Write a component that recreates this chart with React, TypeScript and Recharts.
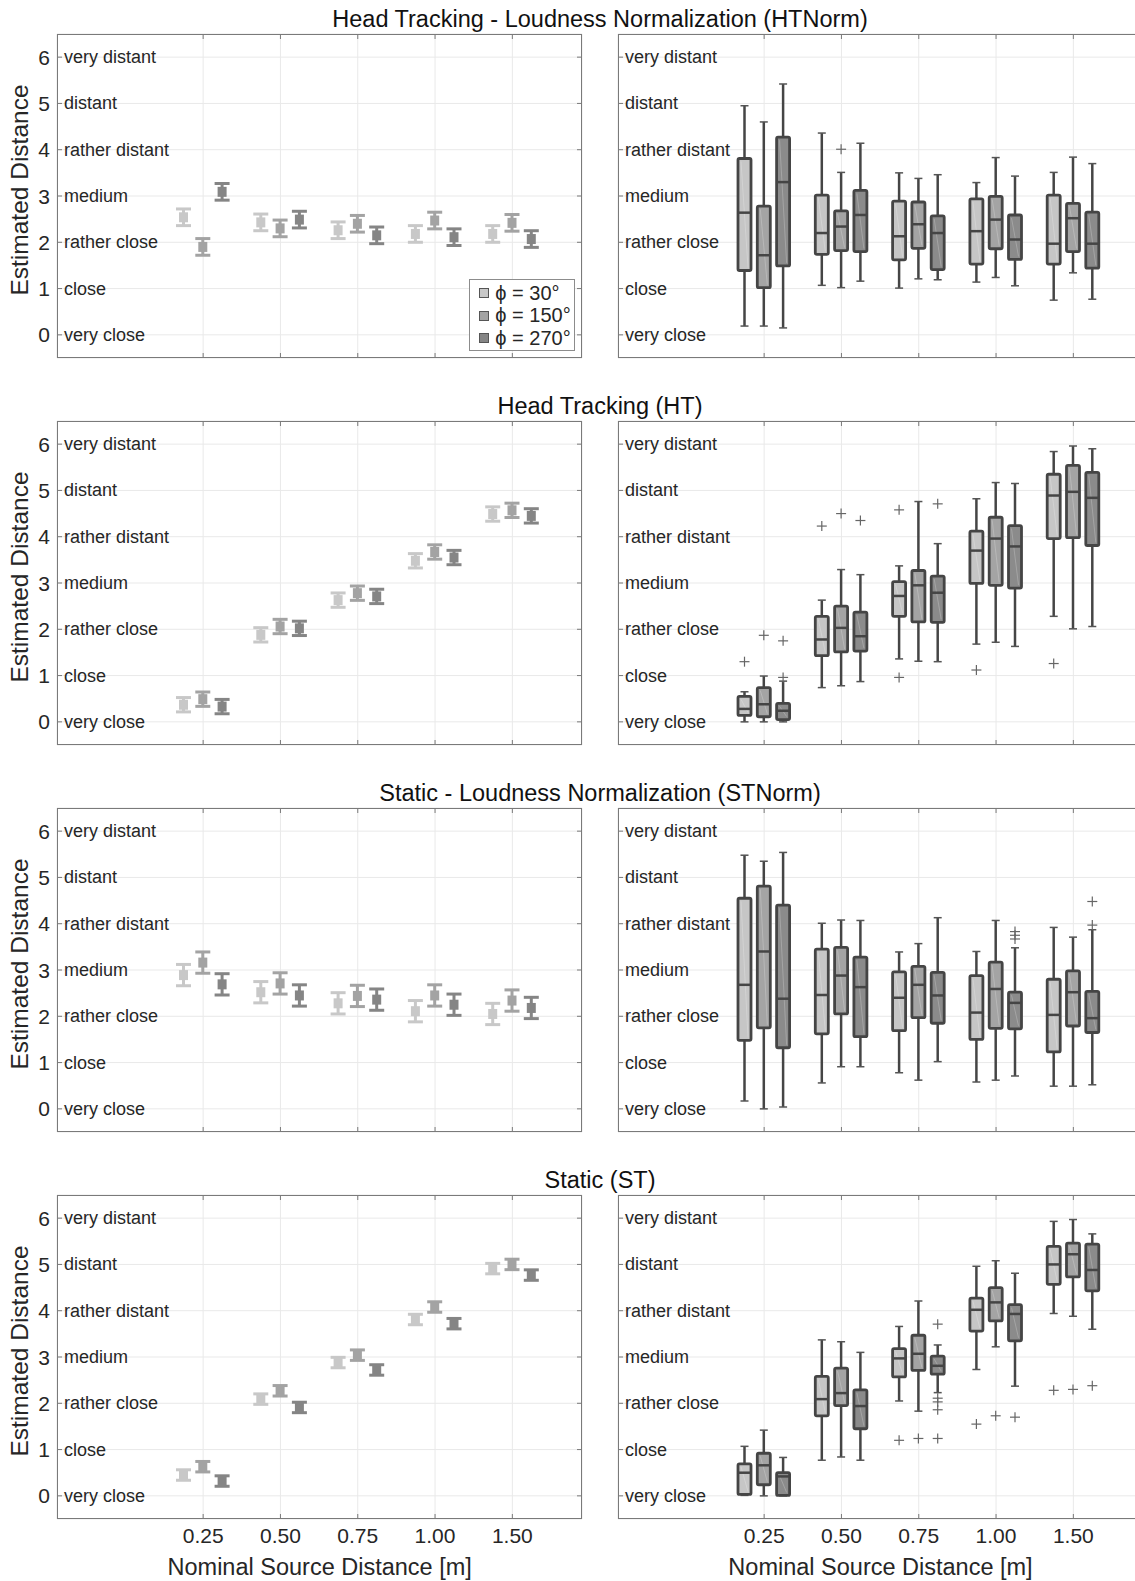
import React from 'react';
import { ComposedChart, Bar, XAxis, YAxis, CartesianGrid } from 'recharts';

// categories / labels
const DISTANCES = ['0.25', '0.50', '0.75', '1.00', '1.50'];
const LEVELS = ['very close', 'close', 'rather close', 'medium', 'rather distant', 'distant', 'very distant'];
const Y_TICKS = [0, 1, 2, 3, 4, 5, 6];
const ANGLES = ['30°', '150°', '270°'];
const TITLES = [
  'Head Tracking - Loudness Normalization (HTNorm)',
  'Head Tracking (HT)',
  'Static - Loudness Normalization (STNorm)',
  'Static (ST)',
];

// means (left column) per angle, per distance
const HTNORM_MEAN_30 = [2.54, 2.43, 2.26, 2.18, 2.18];
const HTNORM_MEAN_150 = [1.9, 2.3, 2.4, 2.47, 2.42];
const HTNORM_MEAN_270 = [3.09, 2.49, 2.15, 2.11, 2.07];
const HTNORM_CI = [0.18, 0.18, 0.18, 0.18, 0.18];

const HT_MEAN_30 = [0.37, 1.88, 2.63, 3.48, 4.49];
const HT_MEAN_150 = [0.49, 2.06, 2.78, 3.67, 4.57];
const HT_MEAN_270 = [0.33, 2.02, 2.71, 3.55, 4.45];
const HT_CI = [0.155, 0.155, 0.155, 0.155, 0.155];

const STNORM_MEAN_30 = [2.89, 2.52, 2.28, 2.11, 2.05];
const STNORM_MEAN_150 = [3.16, 2.71, 2.44, 2.45, 2.34];
const STNORM_MEAN_270 = [2.69, 2.45, 2.36, 2.25, 2.18];
const STNORM_CI = [0.23, 0.23, 0.23, 0.23, 0.23];

const ST_MEAN_30 = [0.45, 2.09, 2.88, 3.81, 4.91];
const ST_MEAN_150 = [0.63, 2.27, 3.04, 4.08, 5.0];
const ST_MEAN_270 = [0.32, 1.91, 2.72, 3.72, 4.77];
const ST_CI = [0.113, 0.113, 0.113, 0.113, 0.113];

// boxplots (right column): [whisker low, q1, median, q3, whisker high]
const HTNORM_BOX_30 = [[0.19, 1.39, 2.64, 3.81, 4.95], [1.07, 1.74, 2.2, 3.02, 4.36], [1.01, 1.62, 2.13, 2.89, 3.5], [1.14, 1.53, 2.24, 2.94, 3.29], [0.75, 1.53, 1.97, 3.02, 3.51]];
const HTNORM_BOX_150 = [[0.19, 1.02, 1.72, 2.78, 4.6], [1.02, 1.82, 2.34, 2.68, 3.51], [1.21, 1.87, 2.39, 2.87, 3.38], [1.24, 1.86, 2.49, 2.99, 3.83], [1.34, 1.8, 2.52, 2.84, 3.84]];
const HTNORM_BOX_270 = [[0.15, 1.49, 3.3, 4.27, 5.42], [1.16, 1.8, 2.59, 3.12, 4.14], [1.19, 1.41, 2.2, 2.57, 3.46], [1.06, 1.63, 2.06, 2.59, 3.43], [0.77, 1.44, 1.97, 2.65, 3.7]];
const HTNORM_OUT_30 = [[], [], [], [], []];
const HTNORM_OUT_150 = [[], [4.01], [], [], []];
const HTNORM_OUT_270 = [[], [], [], [], []];

const HT_BOX_30 = [[0.0, 0.14, 0.28, 0.55, 0.65], [0.74, 1.43, 1.78, 2.28, 2.63], [1.36, 2.28, 2.72, 3.03, 3.37], [1.68, 2.99, 3.7, 4.12, 4.82], [2.28, 3.96, 4.89, 5.35, 5.84]];
const HT_BOX_150 = [[0.0, 0.11, 0.38, 0.74, 0.99], [0.78, 1.51, 2.03, 2.5, 3.29], [1.31, 2.16, 2.95, 3.27, 4.76], [1.72, 2.95, 3.96, 4.42, 5.17], [2.01, 3.98, 4.97, 5.54, 5.96]];
const HT_BOX_270 = [[0.0, 0.05, 0.24, 0.4, 0.88], [0.87, 1.53, 1.85, 2.37, 3.18], [1.3, 2.15, 2.79, 3.15, 3.85], [1.63, 2.89, 3.79, 4.24, 5.15], [2.06, 3.81, 4.84, 5.39, 5.9]];
const HT_OUT_30 = [[1.3], [4.23], [4.58, 0.96], [1.12], [1.26]];
const HT_OUT_150 = [[1.87], [4.5], [], [], []];
const HT_OUT_270 = [[1.75, 0.96], [4.35], [4.71], [], []];

const STNORM_BOX_30 = [[0.17, 1.48, 2.68, 4.55, 5.48], [0.56, 1.62, 2.46, 3.45, 4.01], [0.78, 1.69, 2.4, 2.96, 3.39], [0.58, 1.5, 2.08, 2.88, 3.4], [0.49, 1.23, 2.03, 2.8, 3.92]];
const STNORM_BOX_150 = [[0.0, 1.75, 3.4, 4.81, 5.35], [0.91, 2.05, 2.88, 3.49, 4.08], [0.62, 1.97, 2.68, 3.08, 3.57], [0.62, 1.74, 2.59, 3.17, 4.07], [0.49, 1.79, 2.52, 2.98, 3.71]];
const STNORM_BOX_270 = [[0.04, 1.32, 2.38, 4.4, 5.54], [0.91, 1.56, 2.63, 3.28, 4.07], [1.02, 1.85, 2.45, 2.95, 4.13], [0.71, 1.73, 2.29, 2.52, 3.48], [0.52, 1.65, 1.96, 2.54, 3.87]];
const STNORM_OUT_30 = [[], [], [], [], []];
const STNORM_OUT_150 = [[], [], [], [], []];
const STNORM_OUT_270 = [[], [], [], [3.83, 3.75, 3.67], [4.48, 3.97]];

const ST_BOX_30 = [[0.01, 0.03, 0.5, 0.69, 1.07], [0.77, 1.73, 2.09, 2.58, 3.37], [2.05, 2.57, 2.97, 3.18, 3.66], [2.73, 3.56, 4.02, 4.27, 4.96], [3.94, 4.57, 5.0, 5.39, 5.93]];
const ST_BOX_150 = [[0.0, 0.24, 0.66, 0.92, 1.42], [0.84, 1.95, 2.22, 2.76, 3.33], [1.83, 2.71, 3.07, 3.47, 4.21], [3.22, 3.78, 4.18, 4.5, 5.08], [3.88, 4.73, 5.22, 5.46, 5.97]];
const ST_BOX_270 = [[0.0, 0.01, 0.42, 0.5, 0.83], [0.77, 1.45, 1.94, 2.29, 3.1], [2.23, 2.63, 2.81, 3.02, 3.26], [2.37, 3.35, 3.93, 4.13, 4.81], [3.6, 4.43, 4.88, 5.44, 5.66]];
const ST_OUT_30 = [[], [], [1.2], [1.55], [2.28]];
const ST_OUT_150 = [[], [], [1.24], [1.73], [2.3]];
const ST_OUT_270 = [[], [], [3.71, 2.11, 2.03, 1.86, 1.24], [1.7], [2.38]];

// layout
const PW = 525;
const PH = 324;
const ML = 60;
const MR = 10;
const MT = 10;
const ROW_TOPS = [34.3, 421.3, 808.3, 1195.3];
const LEFT_X = 57.2;
const RIGHT_X = 618;

const MEAN_COLORS = ['#c8c8c8', '#a3a3a3', '#858585'];
const BOX_FILLS = ['#c6c6c6', '#a4a4a4', '#8b8b8b'];
const EDGE = '#454545';
const AXIS = '#7a7a7a';
const TEXT = '#262626';

const meanRows = (m30: number[], m150: number[], m270: number[], ci: number[]) =>
  DISTANCES.map((dist, i) => ({
    dist,
    s: [m30[i], m150[i], m270[i]].map((m) => ({ m, lo: m - ci[i], hi: m + ci[i] })),
  }));

const boxStat = (b: number[], out: number[]) => ({
  wLo: b[0], q1: b[1], med: b[2], q3: b[3], wHi: b[4], out,
  lo: Math.min(b[0], ...out),
  hi: Math.max(b[4], ...out),
});

const boxRows = (b30: number[][], b150: number[][], b270: number[][], o30: number[][], o150: number[][], o270: number[][]) =>
  DISTANCES.map((dist, i) => ({
    dist,
    s: [boxStat(b30[i], o30[i]), boxStat(b150[i], o150[i]), boxStat(b270[i], o270[i])],
  }));

const LEFT_DATA = [
  meanRows(HTNORM_MEAN_30, HTNORM_MEAN_150, HTNORM_MEAN_270, HTNORM_CI),
  meanRows(HT_MEAN_30, HT_MEAN_150, HT_MEAN_270, HT_CI),
  meanRows(STNORM_MEAN_30, STNORM_MEAN_150, STNORM_MEAN_270, STNORM_CI),
  meanRows(ST_MEAN_30, ST_MEAN_150, ST_MEAN_270, ST_CI),
];
const RIGHT_DATA = [
  boxRows(HTNORM_BOX_30, HTNORM_BOX_150, HTNORM_BOX_270, HTNORM_OUT_30, HTNORM_OUT_150, HTNORM_OUT_270),
  boxRows(HT_BOX_30, HT_BOX_150, HT_BOX_270, HT_OUT_30, HT_OUT_150, HT_OUT_270),
  boxRows(STNORM_BOX_30, STNORM_BOX_150, STNORM_BOX_270, STNORM_OUT_30, STNORM_OUT_150, STNORM_OUT_270),
  boxRows(ST_BOX_30, ST_BOX_150, ST_BOX_270, ST_OUT_30, ST_OUT_150, ST_OUT_270),
];

// pixel mapping inside a range bar: value -> y, from the bar rect the library computed
const mapper = (props: any, st: any) => {
  const top = Math.min(props.y, props.y + props.height);
  const bot = Math.max(props.y, props.y + props.height);
  return (v: number) => (st.hi === st.lo ? top : top + ((st.hi - v) / (st.hi - st.lo)) * (bot - top));
};

function MeanShape(props: any) {
  const st = props.payload.s[props.idx];
  const py = mapper(props, st);
  const cx = props.x + props.width / 2;
  const c = MEAN_COLORS[props.idx];
  return (
    <g>
      <line x1={cx} x2={cx} y1={py(st.hi)} y2={py(st.lo)} stroke={c} strokeWidth={3} />
      <line x1={cx - 7.5} x2={cx + 7.5} y1={py(st.hi)} y2={py(st.hi)} stroke={c} strokeWidth={3} />
      <line x1={cx - 7.5} x2={cx + 7.5} y1={py(st.lo)} y2={py(st.lo)} stroke={c} strokeWidth={3} />
      <rect x={cx - 4.5} y={py(st.m) - 5} width={9} height={10} fill={c} />
    </g>
  );
}

function BoxShape(props: any) {
  const st = props.payload.s[props.idx];
  const py = mapper(props, st);
  const cx = props.x + props.width / 2;
  const x0 = props.x + 1.5;
  const x1 = props.x + props.width - 1.5;
  return (
    <g>
      <line x1={cx} x2={cx} y1={py(st.wHi)} y2={py(st.q3)} stroke={EDGE} strokeWidth={2.5} />
      <line x1={cx} x2={cx} y1={py(st.q1)} y2={py(st.wLo)} stroke={EDGE} strokeWidth={2.5} />
      <line x1={cx - 4} x2={cx + 4} y1={py(st.wHi)} y2={py(st.wHi)} stroke="#555" strokeWidth={1.5} />
      <line x1={cx - 4} x2={cx + 4} y1={py(st.wLo)} y2={py(st.wLo)} stroke="#555" strokeWidth={1.5} />
      <rect x={x0} y={py(st.q3)} width={x1 - x0} height={py(st.q1) - py(st.q3)} fill={BOX_FILLS[props.idx]} stroke={EDGE} strokeWidth={2.8} rx={1.5} />
      <line x1={x0 + 3} x2={x1 - 3} y1={py(st.q3) + 3} y2={py(st.q1) - 3} stroke="#fff" strokeOpacity={0.22} strokeWidth={1} />
      <line x1={x0} x2={x1} y1={py(st.med)} y2={py(st.med)} stroke={EDGE} strokeWidth={2.5} />
      {st.out.map((o: number, k: number) => (
        <g key={k} stroke="#666" strokeWidth={1.2}>
          <line x1={cx - 5} x2={cx + 5} y1={py(o)} y2={py(o)} />
          <line x1={cx} x2={cx} y1={py(o) - 5} y2={py(o) + 5} />
        </g>
      ))}
    </g>
  );
}

const renderYTick = (p: any, numbers: boolean) => {
  const y = p.y;
  const v = p.payload.value;
  return (
    <g>
      {numbers && (
        <text x={ML - 7} y={y} textAnchor="end" dominantBaseline="central" fontSize={21} fill={TEXT}>{v}</text>
      )}
      <line x1={ML} x2={ML + 5} y1={y} y2={y} stroke={AXIS} />
      <line x1={ML + PW - 5} x2={ML + PW} y1={y} y2={y} stroke={AXIS} />
      <text x={ML + 7} y={y} dominantBaseline="central" fontSize={18} fill={TEXT}>{LEVELS[v]}</text>
    </g>
  );
};

const renderXTick = (p: any, labels: boolean) => {
  const x = p.x;
  return (
    <g>
      <line x1={x} x2={x} y1={MT + PH} y2={MT + PH - 5} stroke={AXIS} />
      <line x1={x} x2={x} y1={MT} y2={MT + 5} stroke={AXIS} />
      {labels && (
        <text x={x} y={MT + PH + 16} textAnchor="middle" dominantBaseline="central" fontSize={21} fill={TEXT}>{p.payload.value}</text>
      )}
    </g>
  );
};

interface PanelProps {
  left: number;
  top: number;
  rows: any[];
  kind: 'mean' | 'box';
  numbers: boolean;
  xLabels: boolean;
}

function Panel({ left, top, rows, kind, numbers, xLabels }: PanelProps) {
  const xh = xLabels ? 45 : 10;
  return (
    <div style={{ position: 'absolute', left: left - ML, top: top - MT }}>
      <ComposedChart
        width={ML + PW + MR}
        height={MT + PH + xh}
        data={rows}
        margin={{ top: MT, right: MR, bottom: 0, left: 0 }}
        barGap={3.3}
      >
        <CartesianGrid stroke="#e9e9e9" />
        <XAxis
          dataKey="dist"
          type="category"
          height={xh}
          padding={{ left: 107.5, right: 31 }}
          axisLine={false}
          tickLine={false}
          interval={0}
          tick={(p: any) => renderXTick(p, xLabels)}
        />
        <YAxis
          type="number"
          domain={[-0.5, 6.5]}
          ticks={Y_TICKS}
          width={ML}
          interval={0}
          axisLine={false}
          tickLine={false}
          tick={(p: any) => renderYTick(p, numbers)}
        />
        {[0, 1, 2].map((i) => (
          <Bar
            key={i}
            dataKey={(r: any) => [r.s[i].lo, r.s[i].hi]}
            barSize={16}
            isAnimationActive={false}
            shape={(p: any) => (kind === 'box' ? <BoxShape {...p} idx={i} /> : <MeanShape {...p} idx={i} />)}
          />
        ))}
      </ComposedChart>
      <div
        style={{
          position: 'absolute', left: ML, top: MT, width: PW, height: PH,
          border: `1px solid ${AXIS}`, boxSizing: 'border-box', pointerEvents: 'none',
        }}
      />
    </div>
  );
}

function LegendBox() {
  return (
    <div
      style={{
        position: 'absolute', left: 469.3, top: 279.3, width: 106, height: 72,
        border: '1px solid #8c8c8c', background: '#fff', boxSizing: 'border-box',
      }}
    >
      {ANGLES.map((a, i) => (
        <div key={a} style={{ position: 'absolute', left: 9, top: 2 + i * 22.5, height: 22, display: 'flex', alignItems: 'center', fontSize: 20, color: TEXT }}>
          <span style={{ width: 8, height: 8, background: MEAN_COLORS[i], border: '1px solid #555', marginRight: 6 }} />
          <span>ϕ = {a}</span>
        </div>
      ))}
    </div>
  );
}

export default function App() {
  return (
    <div
      style={{
        position: 'relative', width: 1135, height: 1581, overflow: 'hidden', background: '#fff',
        fontFamily: '"Liberation Sans", Arial, sans-serif', color: TEXT,
      }}
    >
      <style>{'body{margin:0}'}</style>
      {ROW_TOPS.map((top, r) => (
        <React.Fragment key={r}>
          <div style={{ position: 'absolute', left: 600, top: top - 15, transform: 'translate(-50%,-50%)', fontSize: 23.5, color: '#111', whiteSpace: 'nowrap' }}>
            {TITLES[r]}
          </div>
          <div style={{ position: 'absolute', left: 20, top: top + PH / 2 - 6, transform: 'translate(-50%,-50%) rotate(-90deg)', fontSize: 24.5, whiteSpace: 'nowrap' }}>
            Estimated Distance
          </div>
          <Panel left={LEFT_X} top={top} rows={LEFT_DATA[r]} kind="mean" numbers xLabels={r === 3} />
          <Panel left={RIGHT_X} top={top} rows={RIGHT_DATA[r]} kind="box" numbers={false} xLabels={r === 3} />
        </React.Fragment>
      ))}
      <LegendBox />
      {[LEFT_X, RIGHT_X].map((x) => (
        <div key={x} style={{ position: 'absolute', left: x + PW / 2, top: 1567, transform: 'translate(-50%,-50%)', fontSize: 23.5, whiteSpace: 'nowrap' }}>
          Nominal Source Distance [m]
        </div>
      ))}
    </div>
  );
}
